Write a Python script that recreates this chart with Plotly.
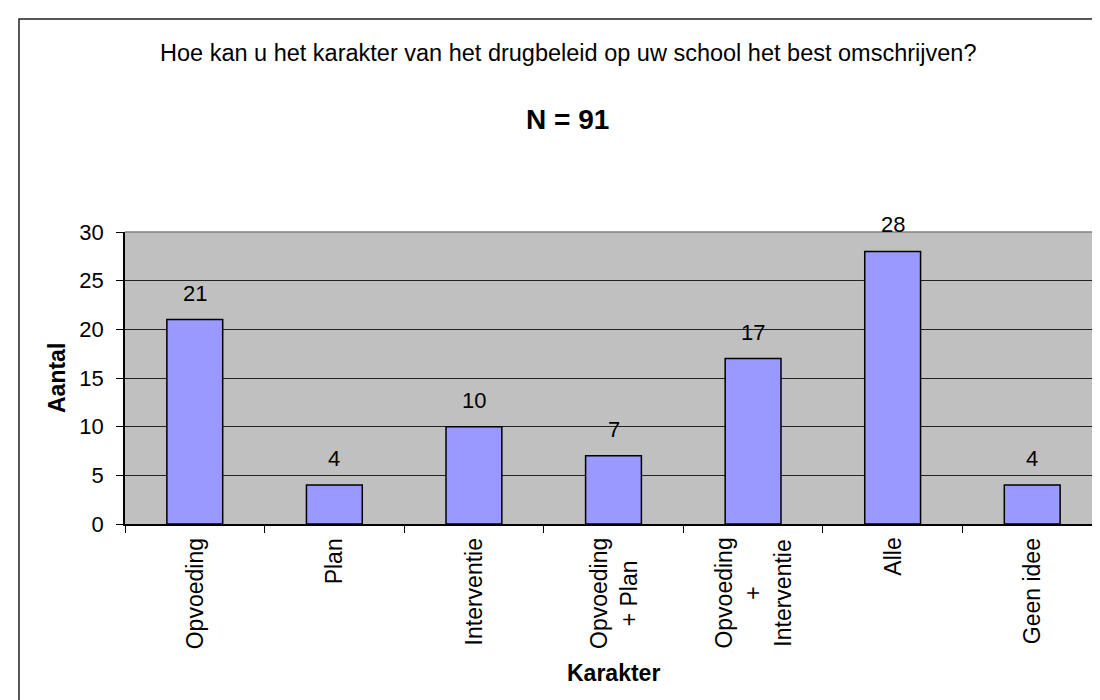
import plotly.graph_objects as go

# data
categories = ["Opvoeding", "Plan", "Interventie", "Opvoeding + Plan",
              "Opvoeding + Interventie", "Alle", "Geen idee"]
tick_labels = ["Opvoeding", "Plan", "Interventie", "Opvoeding<br>+ Plan",
               "Opvoeding<br>+<br>Interventie", "Alle", "Geen idee"]
counts = [21, 4, 10, 7, 17, 28, 4]

question = "Hoe kan u het karakter van het drugbeleid op uw school het best omschrijven?"
subtitle = "N = 91"

FONT = "Liberation Sans, Arial, sans-serif"

fig = go.Figure(go.Bar(
    x=categories, y=counts,
    marker=dict(color="#9999FF", line=dict(color="black", width=1.5)),
    hoverinfo="x+y",
))

annotations = []
# value labels above the bars
for c, v in zip(categories, counts):
    annotations.append(dict(x=c, y=v, xref="x", yref="y", text=str(v),
                            showarrow=False, yanchor="bottom", yshift=12,
                            font=dict(size=22, color="black")))
# rotated category labels
for c, t in zip(categories, tick_labels):
    annotations.append(dict(x=c, y=0, xref="x", yref="paper", text=t,
                            showarrow=False, textangle=-90, align="center",
                            xanchor="center", yanchor="top", yshift=-12,
                            font=dict(size=23, color="black")))
# titles
annotations += [
    dict(x=0.4534, y=1.613, xref="paper", yref="paper", text=question,
         showarrow=False, xanchor="center", yanchor="middle",
         font=dict(size=23.5, color="black")),
    dict(x=0.4534, y=1.384, xref="paper", yref="paper", text="<b>" + subtitle + "</b>",
         showarrow=False, xanchor="center", yanchor="middle",
         font=dict(size=28, color="black")),
    dict(x=0, y=0.5, xref="paper", yref="paper", text="<b>Aantal</b>",
         showarrow=False, textangle=-90, xanchor="center", yanchor="middle",
         xshift=-68, font=dict(size=23, color="black")),
    dict(x=0.5, y=0, xref="paper", yref="paper", text="<b>Karakter</b>",
         showarrow=False, xanchor="center", yanchor="middle",
         yshift=-149, font=dict(size=23, color="black")),
]

fig.update_layout(
    width=1100, height=700,
    margin=dict(l=117, r=6, t=224, b=184),
    paper_bgcolor="white", plot_bgcolor="#C0C0C0",
    font=dict(family=FONT, color="black"),
    bargap=0.6, showlegend=False,
    annotations=annotations,
    shapes=[
        # outer chart border
        dict(type="rect", xref="paper", yref="paper", x0=-0.1085, x1=1.2,
             y0=-1.0, y1=1.7295, line=dict(color="#222222", width=1.5)),
        # plot area top and right border
        dict(type="line", xref="paper", yref="paper", x0=0, x1=1, y0=1, y1=1,
             line=dict(color="#808080", width=1.5)),
        dict(type="line", xref="paper", yref="paper", x0=1, x1=1, y0=0, y1=1,
             line=dict(color="#808080", width=1.5)),
    ],
)
fig.update_xaxes(showticklabels=False, ticks="outside", ticklen=7, tickson="boundaries",
                 tickcolor="black", showline=True, linecolor="black", linewidth=1.5,
                 showgrid=False, fixedrange=True)
fig.update_yaxes(range=[0, 30], dtick=5, ticks="outside", ticklen=7, tickcolor="black",
                 showline=True, linecolor="black", linewidth=1.5,
                 gridcolor="#222222", gridwidth=1, zeroline=False,
                 ticklabelstandoff=8,
                 tickfont=dict(size=22, color="black"), fixedrange=True)

fig.write_html("out.html")
